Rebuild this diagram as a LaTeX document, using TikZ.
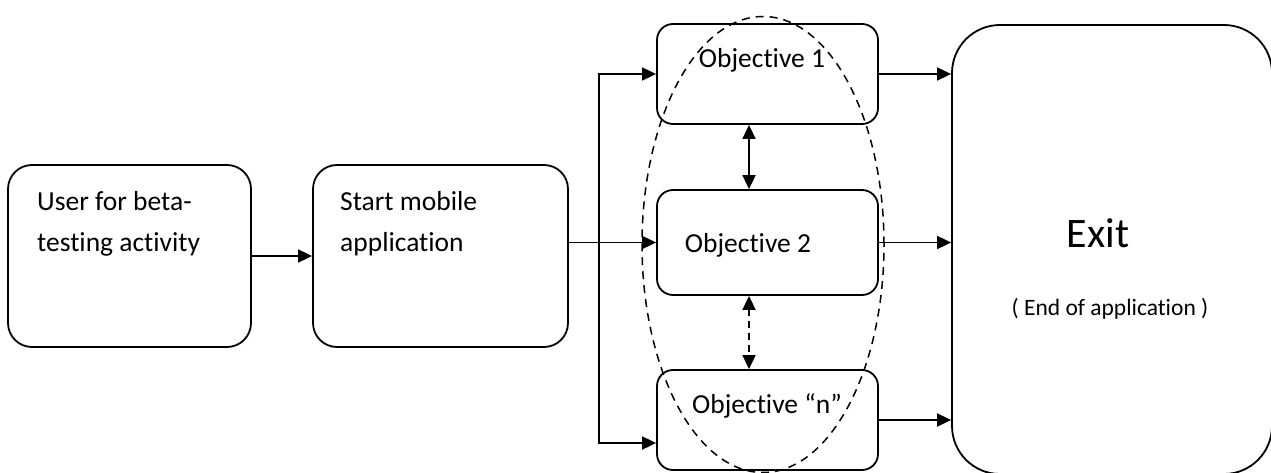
\documentclass[tikz,border=0pt]{standalone}
\usepackage{fontspec}
\setmainfont{Carlito}[Ligatures={NoCommon}]
\usetikzlibrary{arrows.meta,positioning,shapes.geometric,calc}
\tikzset{
  stepbox/.style={draw,line width=1.8pt,rounded corners=24pt,minimum width=243pt,minimum height=182pt},
  goalbox/.style={draw,line width=1.8pt,rounded corners=16pt,minimum width=221pt,minimum height=100pt},
  endbox/.style={draw,line width=1.8pt,rounded corners=48pt,minimum width=320pt,minimum height=449pt},
  arrow/.style={-{Triangle[length=14pt,width=13pt]},line width=1.8pt},
  twoway/.style={{Triangle[length=14pt,width=13pt]}-{Triangle[length=14pt,width=13pt]},line width=1.8pt},
  boxtext/.style={font=\fontsize{27.5}{41}\selectfont,align=left,inner sep=0pt},
  group/.style={draw,ellipse,dashed,dash pattern=on 8pt off 6pt,line width=1.5pt,minimum width=242pt,minimum height=456pt}
}
\begin{document}
\begin{tikzpicture}[x=1pt,y=-1pt]
  \useasboundingbox (0,0) rectangle (1271,473);
  % boxes
  \node[stepbox] (user) at (129.5,256) {};
  \node[stepbox,minimum width=255pt] (start) at (440.5,256) {};
  \node[goalbox] (obja) at (767.5,74) {};
  \node[goalbox,minimum height=105pt] (objb) at (767.5,242.5) {};
  \node[goalbox] (objn) at (767.5,420) {};
  \node[endbox] (exit) at (1112,249.5) {};
  \node[group] (goals) at (763,244.5) {};

  % texts
  \node[boxtext,anchor=north west] (usertxt) at (37,191) {User for beta-\\testing activity};
  \node[boxtext,anchor=north west] (starttxt) at (340,191) {Start mobile\\application};
  \node[boxtext,anchor=base] (objatxt) at (762,68) {Objective 1};
  \node[boxtext,anchor=base] (objbtxt) at (748,252) {Objective 2};
  \node[boxtext,anchor=base] (objntxt) at (767,413) {Objective “n”};
  \node[inner sep=0pt,anchor=base,font=\fontsize{42}{50}\selectfont] (exittxt) at (1098,247) {Exit};
  \node[inner sep=0pt,anchor=base,font=\fontsize{23.5}{28}\selectfont] (endtxt) at (1110,315) {( End of application )};

  % connectors
  \coordinate (split) at (599,243);
  \draw[arrow] (user) -- (start);
  \draw[arrow] (start.east |- objb) -- (objb.west);
  \draw[arrow] (split) |- (obja.west);
  \draw[arrow] (split) |- ([yshift=-23pt]objn.west);
  \draw[twoway] ([xshift=-18.5pt]obja.south) -- ([xshift=-18.5pt]objb.north);
  \draw[twoway,dashed,dash pattern=on 7pt off 5pt] ([xshift=-18.5pt]objb.south) -- ([xshift=-18.5pt]objn.north);
  \draw[arrow] (obja.east) -- (exit.west |- obja.east);
  \draw[arrow] (objb.east) -- (exit.west |- objb.east);
  \draw[arrow] (objn.east) -- (exit.west |- objn.east);
\end{tikzpicture}
\end{document}
